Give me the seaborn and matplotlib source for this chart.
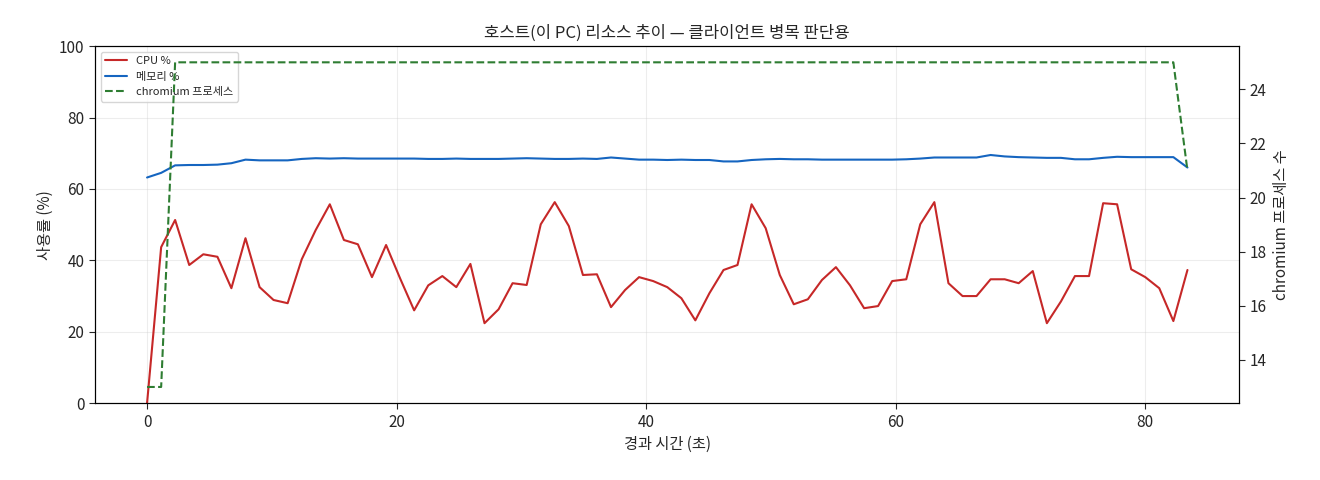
import numpy as np
import pandas as pd
import matplotlib
matplotlib.use('Agg')
import matplotlib.pyplot as plt
import seaborn as sns

sns.set_style('white')
plt.rcParams['font.family'] = ['Noto Sans CJK KR', 'DejaVu Sans']
plt.rcParams['axes.unicode_minus'] = False

# 샘플 시각 (약 1.13초 간격)
elapsed = np.round(np.arange(75) * 1.127, 2)

cpu = [0, 43.7, 51.3, 38.7, 41.7, 41, 32.2, 46.2, 32.5, 28.9, 28, 40.3, 48.5, 55.7, 45.7,
       44.5, 35.3, 44.3, 34.9, 26, 33, 35.6, 32.5, 39, 22.4, 26.3, 33.6, 33.1, 50.1, 56.3,
       49.6, 35.9, 36.1, 26.9, 31.7, 35.3, 34.2, 32.5, 29.4, 23.2, 30.8, 37.3, 38.7, 55.7, 49,
       35.9, 27.7, 29.1, 34.5, 38.1, 33, 26.6, 27.2, 34.2, 34.7, 50.1, 56.3, 33.6, 30, 30,
       34.7, 34.7, 33.6, 37, 22.4, 28.5, 35.6, 35.6, 56, 55.7, 37.5, 35.3, 32.2, 23, 37.3]

mem = [63.2, 64.5, 66.6, 66.7, 66.7, 66.8, 67.2, 68.2, 68.0, 68.0, 68.0, 68.4, 68.6, 68.5, 68.6,
       68.5, 68.5, 68.5, 68.5, 68.5, 68.4, 68.4, 68.5, 68.4, 68.4, 68.4, 68.5, 68.6, 68.5, 68.4,
       68.4, 68.5, 68.4, 68.8, 68.5, 68.2, 68.2, 68.1, 68.2, 68.1, 68.1, 67.7, 67.7, 68.1, 68.3,
       68.4, 68.3, 68.3, 68.2, 68.2, 68.2, 68.2, 68.2, 68.2, 68.3, 68.5, 68.8, 68.8, 68.8, 68.8,
       69.5, 69.1, 68.9, 68.8, 68.7, 68.7, 68.3, 68.3, 68.7, 69.0, 68.9, 68.9, 68.9, 68.9, 66.0]

chromium = [13, 13] + [25] * 72 + [21]

df = pd.DataFrame({'t': elapsed, 'cpu': cpu, 'mem': mem, 'chromium': chromium})

fig, ax = plt.subplots(figsize=(13.2, 4.8), dpi=100)
sns.lineplot(data=df, x='t', y='cpu', ax=ax, color='#c62828', lw=1.5, label='CPU %')
sns.lineplot(data=df, x='t', y='mem', ax=ax, color='#1565c0', lw=1.5, label='메모리 %')
ax.set_ylim(0, 100)
ax.set_xlabel('경과 시간 (초)', fontsize=11)
ax.set_ylabel('사용률 (%)', fontsize=11)
ax.set_title('호스트(이 PC) 리소스 추이 — 클라이언트 병목 판단용', fontsize=12)
ax.grid(True, alpha=0.35)
ax.legend_.remove()

ax2 = ax.twinx()
sns.lineplot(data=df, x='t', y='chromium', ax=ax2, color='#2e7d32', lw=1.5,
             linestyle='--', label='chromium 프로세스')
ax2.set_ylabel('chromium 프로세스 수', fontsize=11)
ax2.legend_.remove()

h1, l1 = ax.get_legend_handles_labels()
h2, l2 = ax2.get_legend_handles_labels()
ax.legend(h1 + h2, l1 + l2, loc='upper left', fontsize=8)

for a in (ax, ax2):
    for s in a.spines.values():
        s.set_color('black')
    a.tick_params(labelsize=11)
ax.tick_params(axis='both', length=4, left=True, bottom=True)
ax2.tick_params(axis='y', length=4, right=True)

fig.subplots_adjust(left=0.072, right=0.939, top=0.904, bottom=0.16)
fig.savefig('out.png')
